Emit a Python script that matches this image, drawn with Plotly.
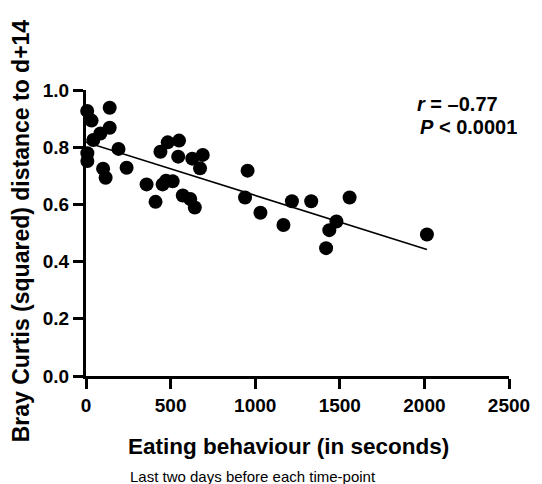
import numpy as np
import plotly.graph_objects as go

eating_seconds = [7, 33, 140, 140, 85, 43, 8, 8, 192, 101, 116, 240, 358, 411, 440, 483,
                  550, 545, 453, 473, 512, 572, 616, 643, 628, 690, 674, 955, 940, 1031,
                  1167, 1217, 1331, 1558, 1480, 1438, 1419, 2015]
bray_curtis = [0.927, 0.893, 0.938, 0.868, 0.848, 0.825, 0.779, 0.752, 0.794, 0.725, 0.693,
               0.728, 0.670, 0.609, 0.784, 0.817, 0.823, 0.767, 0.670, 0.683, 0.681, 0.631,
               0.619, 0.589, 0.760, 0.773, 0.726, 0.718, 0.624, 0.571, 0.528, 0.611, 0.611,
               0.624, 0.540, 0.510, 0.447, 0.495]
x_ticks = [0, 500, 1000, 1500, 2000, 2500]
x_tick_labels = ["0", "500", "1000", "1500", "2000", "2500"]
y_ticks = [0.0, 0.2, 0.4, 0.6, 0.8, 1.0]
y_tick_labels = ["0.0", "0.2", "0.4", "0.6", "0.8", "1.0"]

slope, intercept = np.polyfit(eating_seconds, bray_curtis, 1)
fit_x = [0, max(eating_seconds)]
fit_y = [intercept + slope * v for v in fit_x]

font = "Liberation Sans, Arial, sans-serif"
fig = go.Figure()
fig.add_trace(go.Scatter(x=fit_x, y=fit_y, mode="lines",
                         line=dict(color="black", width=1.6), cliponaxis=False,
                         hoverinfo="skip"))
fig.add_trace(go.Scatter(x=eating_seconds, y=bray_curtis, mode="markers",
                         marker=dict(color="black", size=14), cliponaxis=False))

axis_common = dict(showline=True, linecolor="black", linewidth=3, ticks="outside",
                   ticklen=10, tickwidth=3, tickcolor="black", showgrid=False,
                   zeroline=False, tickfont=dict(family=font, size=19, color="black"))
fig.update_xaxes(range=[0, 2500], tickvals=x_ticks,
                 ticktext=["<b>%s</b>" % t for t in x_tick_labels], **axis_common)
fig.update_yaxes(range=[0, 1.0], tickvals=y_ticks,
                 ticktext=["<b>%s</b>" % t for t in y_tick_labels], **axis_common)

fig.add_annotation(xref="paper", yref="paper", x=0.479, y=-0.245, xanchor="center", yanchor="middle",
                   text="<b>Eating behaviour (in seconds)</b>", showarrow=False,
                   font=dict(family=font, size=22.5, color="black"))
fig.add_annotation(xref="paper", yref="paper", x=-0.153, y=0.507, xanchor="center", yanchor="middle",
                   text="<b>Bray Curtis (squared) distance to d+14</b>", showarrow=False,
                   textangle=-90, font=dict(family=font, size=23, color="black"))
fig.add_annotation(xref="paper", yref="paper", x=0.777, y=0.951, xanchor="left", yanchor="middle",
                   text="<b><i>r</i> = –0.77</b>", showarrow=False,
                   font=dict(family=font, size=20, color="black"))
fig.add_annotation(xref="paper", yref="paper", x=0.784, y=0.871, xanchor="left", yanchor="middle",
                   text="<b><i>P</i> < 0.0001</b>", showarrow=False,
                   font=dict(family=font, size=20, color="black"))
fig.add_annotation(xref="paper", yref="paper", x=0.394, y=-0.35, xanchor="center", yanchor="middle",
                   text="Last two days before each time-point", showarrow=False,
                   font=dict(family=font, size=15, color="black"))

fig.update_layout(width=542, height=484, showlegend=False,
                  margin=dict(l=86, r=26, t=90, b=108),
                  plot_bgcolor="white", paper_bgcolor="white")
fig.write_html("out.html", config={"displayModeBar": False},
               post_script="document.body.style.margin='0';document.body.style.overflow='hidden';")
